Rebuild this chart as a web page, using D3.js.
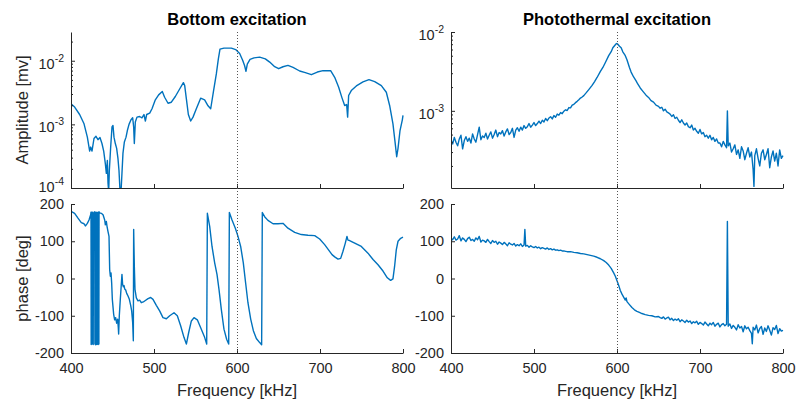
<!DOCTYPE html>
<html>
<head>
<meta charset="utf-8">
<script src="https://cdn.jsdelivr.net/npm/d3@7"></script>
<style>
  body { margin: 0; background: #fff; }
  svg { display: block; }
</style>
</head>
<body>
<svg id="chart" width="802" height="401"></svg>
<script>
// ---- data (frequency in kHz) ----
const freqTicks = [400, 500, 600, 700, 800];
const phaseTicks = [-200, -100, 0, 100, 200];
const resonance = 600;
const titles = ["Bottom excitation", "Photothermal excitation"];

// bottom excitation, amplitude [mV]
const bottomAmpFreq = [400.0, 404.4, 410.4, 415.7, 419.7, 422.5, 423.7, 425.3, 427.7, 430.1,
  432.5, 434.9, 437.3, 439.4, 441.4, 442.6, 443.8, 444.6, 445.4, 446.2,
  447.8, 449.4, 450.6, 451.8, 453.4, 455.0, 456.6, 457.8, 459.0, 460.2,
  461.4, 462.6, 464.3, 466.3, 467.9, 469.9, 472.3, 474.3, 475.5, 476.3,
  477.5, 479.5, 482.7, 485.5, 487.9, 489.6, 491.2, 494.8, 497.6, 501.6,
  505.6, 510.0, 512.8, 516.9, 520.9, 525.7, 530.9, 535.4, 537.0, 539.0,
  541.4, 544.2, 547.0, 551.0, 556.2, 561.0, 565.1, 568.3, 571.5, 575.1,
  577.5, 579.5, 584.3, 593.2, 598.4, 603.2, 606.8, 609.2, 610.8, 612.4,
  615.7, 620.5, 627.3, 634.1, 639.4, 645.4, 650.2, 655.4, 661.4, 667.5,
  675.5, 682.3, 689.6, 696.8, 703.6, 712.8, 717.7, 722.5, 726.5, 729.7,
  732.1, 733.3, 734.5, 737.7, 743.8, 751.8, 759.0, 765.9, 773.9, 779.9,
  783.9, 787.9, 790.4, 792.4, 794.0, 796.4, 799.2, 800.0];
const bottomAmp = [2.1e-3, 1.87e-3, 1.43e-3, 1.02e-3, 6.3e-4, 3.8e-4, 4.4e-4, 3.8e-4, 6.0e-4, 6.5e-4,
  5.75e-4, 6.2e-4, 5.0e-4, 3.8e-4, 2.4e-4, 1.7e-4, 2.7e-4, 1.2e-4, 8.8e-5, 1.9e-4,
  4.4e-4, 9.1e-4, 9.6e-4, 6.3e-4, 5.0e-4, 4.2e-4, 2.9e-4, 1.9e-4, 9.3e-5, 8.3e-5,
  1.7e-4, 3.5e-4, 5.3e-4, 6.3e-4, 8.0e-4, 1.0e-3, 1.18e-3, 1.27e-3, 9.1e-4, 5.0e-4,
  1.09e-3, 1.30e-3, 1.33e-3, 1.27e-3, 1.43e-3, 1.13e-3, 1.43e-3, 1.50e-3, 1.76e-3, 2.43e-3,
  2.91e-3, 3.28e-3, 2.67e-3, 2.15e-3, 2.23e-3, 2.74e-3, 3.60e-3, 4.53e-3, 4.07e-3, 2.52e-3,
  1.43e-3, 1.13e-3, 1.30e-3, 1.76e-3, 2.58e-3, 2.43e-3, 1.96e-3, 1.76e-3, 3.2e-3, 6.2e-3,
  1.06e-2, 1.52e-2, 1.58e-2, 1.58e-2, 1.50e-2, 1.30e-2, 1.02e-2, 8.35e-3, 6.8e-3, 8.87e-3,
  1.05e-2, 1.11e-2, 1.14e-2, 1.07e-2, 9.53e-3, 8.05e-3, 7.5e-3, 8.05e-3, 8.45e-3, 7.87e-3,
  6.9e-3, 6.49e-3, 6.04e-3, 6.65e-3, 6.98e-3, 6.98e-3, 5.5e-3, 3.83e-3, 2.61e-3, 1.98e-3,
  2.05e-3, 1.30e-3, 2.84e-3, 3.40e-3, 4.02e-3, 4.65e-3, 5.05e-3, 4.70e-3, 4.07e-3, 3.20e-3,
  1.98e-3, 1.02e-3, 5.3e-4, 3.1e-4, 4.2e-4, 8.0e-4, 1.18e-3, 1.38e-3];

// bottom excitation, phase [deg]
const bottomPhaseFreq = [400.0, 400.4, 401.2, 404.4, 408.4, 412.4, 415.7, 417.3, 419.7, 421.7,
  423.7, 424.1, 424.3, 424.7, 424.9, 425.2, 425.5, 425.7, 426.0, 426.3,
  426.5, 426.8, 427.0, 427.6, 428.2, 428.6, 428.8, 429.1, 429.3, 429.6,
  429.9, 430.1, 430.4, 430.7, 430.9, 431.2, 431.5, 431.7, 432.0, 432.3,
  432.5, 432.8, 433.1, 433.3, 433.6, 433.8, 434.5, 436.5, 438.6, 440.6,
  441.4, 442.6, 443.4, 444.6,
  445.8, 446.6, 447.4, 448.2, 449.0, 449.8, 451.4, 452.6, 453.8, 455.0,
  456.2, 457.0, 457.4, 458.2, 459.4, 460.6, 461.4, 462.2, 463.1, 463.9,
  464.7, 465.9, 467.1, 468.7, 470.3, 471.9, 473.1, 474.3, 475.1, 475.5,
  476.3, 477.1, 478.7, 480.7, 482.7, 484.7, 487.1, 489.6, 492.8, 496.0,
  498.8, 502.8, 506.8, 510.8, 514.9, 518.9, 524.1, 528.1, 532.1, 536.1,
  539.0, 541.8, 545.0, 548.2, 552.2, 557.0, 561.0, 563.5, 564.3, 567.1,
  569.9, 573.1, 575.9, 578.3, 581.1, 584.3, 587.5, 590.0, 590.8, 594.0,
  598.0, 601.2, 604.4, 607.6, 610.4, 613.2, 616.5, 619.7, 623.3, 627.3,
  629.7, 630.5, 633.3, 637.3, 643.4, 649.4, 655.4, 661.4, 669.5, 677.5,
  685.5, 693.6, 699.6, 705.6, 711.6, 714.5, 717.7, 721.7, 724.9, 727.7,
  730.5, 732.5, 733.7, 735.7, 741.8, 749.8, 757.8, 763.9, 769.9, 775.9,
  781.1, 785.1, 787.9, 789.9, 791.9, 794.0, 797.2, 800.0];
const bottomPhase = [-176, 178, 179, 175, 162, 150, 147, 141, 148, 157,
  171, 178, -177, -170, 178, -176, -168, 177, -175, -171,
  178, -177, 176, 174, 176, 179, -176, -169, 177, -178,
  -171, 178, -175, -170, 177, -177, -172, 176, -175, -169,
  178, -177, -173, 178, -176, 179, 176, 175, 171, 157,
  144, 153, 140, 126,
  113, 24, 6, 15, -12, -56, -96, -111, -105, -120,
  -109, -132, -149, -100, -56, -16, 11, -16, -22, -19,
  -28, -31, -40, -47, -56, -72, -87, -118, -167, 132,
  33, -29, -52, -60, -58, -65, -63, -59, -54, -51,
  -56, -72, -87, -105, -108, -100, -92, -100, -127, -158,
  -176, -145, -114, -105, -111, -136, -158, -176, 175, 140,
  86, 42, 11, -29, -83, -136, -163, -176, 177, 157,
  135, 113, 86, 42, -12, -65, -109, -140, -161, -172,
  -178, 177, 166, 156, 147, 147, 148, 135, 124, 118,
  116, 115, 106, 91, 73, 64, 58, 52, 54, 73,
  95, 113, 103, 102, 95, 86, 68, 51, 37, 20,
  2, -5, -1, 33, 77, 100, 108, 111];

// photothermal excitation, amplitude in units of 1e-4 mV
const photoAmpFreq = [400, 402, 404, 406, 408, 410, 412, 414, 416, 418,
  420, 422, 424, 426, 428, 430, 432, 434, 436, 438,
  440, 442, 444, 446, 448, 450, 452, 454, 456, 458,
  460, 462, 464, 466, 468, 470, 472, 474, 476, 478,
  480, 482, 484, 486, 488, 490, 492, 494, 496, 498,
  500, 502, 504, 506, 508, 510, 512, 514, 516, 518,
  520, 522, 524, 526, 528, 530, 532, 534, 536, 538,
  540, 542, 544, 546, 548, 550, 552, 554, 556, 558,
  560, 563, 566, 570, 573, 576, 580, 583, 586, 590,
  593, 595, 597, 599, 600, 601, 603, 605, 607, 610,
  612, 615, 617, 620, 623, 625, 628, 631, 635, 638,
  641, 644, 647, 650, 652, 654, 656, 658, 660, 662,
  664, 666, 668, 670, 672, 674, 676, 678, 680, 682,
  684, 686, 688, 690, 692, 694, 696, 698, 700, 702,
  704, 706, 708, 710, 712, 714, 716, 718, 720, 722,
  724, 726, 728, 730, 732, 733, 734, 736, 738, 740,
  742, 744, 746, 748, 750, 752, 754, 756, 758, 760,
  762, 764, 765, 766, 768, 770, 772, 774, 776, 778,
  780, 782, 784, 786, 788, 790, 792, 794, 796, 798,
  800];
const photoAmpE4 = [4.3, 3.8, 4.6, 4.0, 3.6, 4.4, 4.9, 3.3, 4.2, 4.7,
  4.1, 4.5, 3.9, 5.1, 4.4, 4.0, 5.0, 6.2, 4.3, 4.8,
  4.6, 5.2, 4.4, 4.9, 5.4, 4.5, 5.0, 5.7, 4.7, 5.3,
  5.1, 5.6, 4.8, 5.4, 5.9, 5.0, 5.3, 6.0, 4.6, 5.7,
  6.1, 5.5, 6.2, 5.7, 6.5, 6.0, 6.3, 6.9, 6.2, 6.6,
  7.1, 6.5, 6.9, 7.4, 6.9, 7.6, 7.2, 8.0, 7.5, 8.1,
  8.4, 7.9, 8.7, 8.3, 9.1, 8.8, 9.5, 9.2, 9.9, 10.3,
  10.1, 11.0, 10.9, 11.8, 12.1, 12.7, 13.2, 13.8, 14.5, 15.0,
  15.6, 17.0, 18.6, 21.0, 23.5, 26.5, 31.6, 35.5, 41.0, 50.1,
  56.2, 63.1, 67.0, 70.8, 71.4, 70.0, 66.0, 63.1, 56.0, 50.1,
  44.5, 35.5, 31.0, 26.9, 24.0, 21.9, 19.5, 17.8, 15.8, 14.8,
  13.5, 12.9, 11.8, 11.4, 10.8, 11.1, 10.0, 10.5, 9.7, 9.4,
  9.1, 8.5, 8.9, 8.0, 8.3, 7.6, 7.1, 7.7, 7.0, 6.6,
  7.0, 6.3, 6.1, 6.6, 5.7, 6.0, 5.5, 5.2, 5.8, 5.1,
  5.3, 4.7, 4.9, 4.5, 4.9, 4.3, 4.6, 4.1, 4.4, 3.9,
  3.9, 3.5, 4.1, 3.7, 3.4, 10.0, 3.6, 3.9, 3.0, 3.3,
  3.7, 2.8, 3.2, 2.5, 3.5, 3.1, 2.4, 2.9, 3.4, 2.6,
  3.0, 1.8, 1.1, 2.7, 3.3, 2.5, 2.0, 2.9, 3.2, 2.4,
  2.8, 3.3, 1.9, 2.6, 3.1, 2.3, 2.9, 2.0, 3.2, 2.5,
  2.7];

// photothermal excitation, phase [deg]
const photoPhaseFreq = [400, 402, 404, 406, 408, 410, 412, 414, 416, 418,
  420, 422, 424, 426, 428, 430, 432, 434, 436, 438,
  440, 442, 444, 446, 448, 450, 452, 454, 456, 458,
  460, 462, 464, 466, 468, 470, 472, 474, 476, 478,
  480, 482, 484, 486, 488, 489, 490, 492, 494, 496,
  498, 500, 502, 504, 506, 508, 510, 512, 514, 516,
  518, 520, 522, 524, 526, 528, 530, 532, 534, 536,
  538, 540, 544, 548, 552, 556, 560, 564, 568, 572,
  576, 580, 584, 587, 590, 593, 596, 598, 600, 602,
  604, 606, 608, 610, 611, 612, 615, 618, 621, 624,
  627, 630, 634, 638, 642, 646, 650, 652, 654, 656,
  658, 660, 662, 664, 666, 668, 670, 672, 674, 676,
  678, 680, 682, 684, 686, 688, 690, 692, 694, 696,
  698, 700, 702, 704, 706, 708, 710, 712, 714, 716,
  718, 720, 722, 724, 726, 728, 730, 732, 733, 734,
  736, 738, 740, 742, 744, 746, 748, 750, 752, 754,
  756, 758, 760, 762, 763, 764, 766, 768, 770, 772,
  774, 776, 778, 780, 782, 784, 786, 788, 790, 792,
  794, 796, 798, 800];
const photoPhase = [108, 104, 112, 103, 106, 115, 101, 109, 105, 99,
  107, 111, 102, 105, 100, 109, 104, 113, 98, 103,
  101, 97, 105, 99, 94, 102, 97, 100, 92, 98,
  95, 91, 97, 93, 88, 96, 92, 90, 94, 87,
  91, 88, 93, 86, 90, 132, 87, 89, 84, 88,
  85, 83, 86, 82, 84, 80, 83, 81, 79, 82,
  78, 80, 77, 79, 76, 77, 75, 76, 74, 74,
  73, 72, 72, 70, 69, 67, 66, 64, 62, 60,
  57, 53, 48, 43, 36, 27, 15, 6, -6, -18,
  -32, -42, -50, -58, -52, -62, -70, -78, -84, -88,
  -91, -94, -97, -99, -100, -103, -102, -105, -107, -103,
  -109, -106, -104, -111, -107, -113, -109, -112, -108, -116,
  -111, -114, -118, -112, -117, -114, -121, -116, -119, -115,
  -123, -118, -121, -125, -117, -122, -127, -120, -124, -118,
  -128, -123, -120, -130, -124, -121, -127, -123, 153, -128,
  -122, -134, -126, -131, -138, -124, -133, -129, -143, -127,
  -135, -131, -140, -147, -175, -131, -138, -125, -146, -134,
  -129, -150, -133, -142, -127, -139, -152, -132, -137, -126,
  -148, -135, -141, -139];

// ---- drawing ----
const FONT = '"Liberation Sans", Arial, Helvetica, sans-serif';
const lineColor = '#0072BD';
const axisColor = '#262626';
const svg = d3.select('#chart');

const cols = [{ x0: 71, x1: 403 }, { x0: 451, x1: 783 }];
const topRow = { y0: 32, y1: 188 };
const botRow = { y0: 204, y1: 353 };
let clipId = 0;

function styleAxis(g) {
  g.attr('font-family', FONT).attr('font-size', 14.5).attr('color', axisColor);
  g.selectAll('.domain').attr('stroke', axisColor);
  g.selectAll('.tick line').attr('stroke', axisColor);
}

function panel(o) {
  const x = d3.scaleLinear().domain([400, 800]).range([o.x0, o.x1]);
  const y = (o.log ? d3.scaleLog() : d3.scaleLinear()).domain(o.yDomain).range([o.y1, o.y0]);
  const g = svg.append('g');

  const cid = 'clip' + (clipId++);
  svg.append('clipPath').attr('id', cid)
    .append('rect')
    .attr('x', o.x0).attr('y', o.y0 - 1)
    .attr('width', o.x1 - o.x0 + 1).attr('height', o.y1 - o.y0 + 1);

  const line = d3.line().x(d => x(d[0])).y(d => y(d[1]));
  g.append('path')
    .datum(d3.zip(o.fx, o.fy))
    .attr('clip-path', `url(#${cid})`)
    .attr('fill', 'none')
    .attr('stroke', lineColor)
    .attr('stroke-width', 1.4)
    .attr('stroke-linejoin', 'round')
    .attr('d', line);

  // x axis (ticks point inwards, like MATLAB)
  g.append('g')
    .attr('transform', `translate(0,${o.y1})`)
    .call(d3.axisBottom(x).tickValues(freqTicks).tickSizeInner(-4).tickSizeOuter(0)
      .tickPadding(10).tickFormat(d => o.xLabels ? String(d) : ''))
    .call(styleAxis);

  if (o.log) {
    g.append('g')
      .attr('transform', `translate(${o.x0},0)`)
      .call(d3.axisLeft(y).tickValues(o.minor).tickSizeInner(-2).tickSizeOuter(0).tickFormat(() => ''))
      .call(styleAxis)
      .call(a => a.select('.domain').remove());
    g.append('g')
      .attr('transform', `translate(${o.x0},0)`)
      .call(d3.axisLeft(y).tickValues(o.yTicks).tickSizeInner(-4).tickSizeOuter(0).tickFormat(() => ''))
      .call(styleAxis);
    // 10^n labels; the one sitting on the bottom edge is lifted a little so it clears the phase axis label below
    const lab = g.append('g').attr('font-family', FONT).attr('fill', axisColor).attr('text-anchor', 'end');
    o.yTicks.forEach(v => {
      const yy = y(v) + (Math.abs(y(v) - o.y1) < 1 ? 4 : 8);
      const t = lab.append('text').attr('x', o.x0 - 7).attr('y', yy).attr('font-size', 14.5);
      t.append('tspan').text('10');
      t.append('tspan').attr('font-size', 10.5).attr('dy', -7).text(String(Math.round(Math.log10(v))));
    });
  } else {
    g.append('g')
      .attr('transform', `translate(${o.x0},0)`)
      .call(d3.axisLeft(y).tickValues(o.yTicks).tickSizeInner(-4).tickSizeOuter(0)
        .tickPadding(7).tickFormat(d => String(d)))
      .call(styleAxis);
  }

  if (o.yLabel) {
    svg.append('text')
      .attr('transform', `translate(27.5,${(o.y0 + o.y1) / 2}) rotate(-90)`)
      .attr('text-anchor', 'middle')
      .attr('font-family', FONT).attr('font-size', 16.5).attr('fill', axisColor)
      .text(o.yLabel);
  }
  if (o.xLabel) {
    svg.append('text')
      .attr('x', (o.x0 + o.x1) / 2).attr('y', 396)
      .attr('text-anchor', 'middle')
      .attr('font-family', FONT).attr('font-size', 16.5).attr('fill', axisColor)
      .text(o.xLabel);
  }
  if (o.title) {
    svg.append('text')
      .attr('x', (o.x0 + o.x1) / 2).attr('y', 25)
      .attr('text-anchor', 'middle')
      .attr('font-family', FONT).attr('font-size', 16.5).attr('font-weight', 'bold').attr('fill', '#000')
      .text(o.title);
  }
  return x;
}

const minorLeft = [2e-4, 3e-4, 4e-4, 5e-4, 6e-4, 7e-4, 8e-4, 9e-4, 2e-3, 3e-3, 4e-3, 5e-3, 6e-3, 7e-3, 8e-3, 9e-3, 2e-2];
const minorRight = [2e-4, 3e-4, 4e-4, 5e-4, 6e-4, 7e-4, 8e-4, 9e-4, 2e-3, 3e-3, 4e-3, 5e-3, 6e-3, 7e-3, 8e-3, 9e-3];

const xs = [];
xs.push(panel({ ...cols[0], ...topRow, log: true, yDomain: [1e-4, 0.0283], yTicks: [1e-4, 1e-3, 1e-2], minor: minorLeft,
  fx: bottomAmpFreq, fy: bottomAmp, yLabel: 'Amplitude [mv]', title: titles[0] }));
panel({ ...cols[0], ...botRow, yDomain: [-200, 200], yTicks: phaseTicks,
  fx: bottomPhaseFreq, fy: bottomPhase, yLabel: 'phase [deg]', xLabels: true, xLabel: 'Frequency [kHz]' });
xs.push(panel({ ...cols[1], ...topRow, log: true, yDomain: [1.05e-4, 1e-2], yTicks: [1e-3, 1e-2], minor: minorRight,
  fx: photoAmpFreq, fy: photoAmpE4.map(v => v * 1e-4), title: titles[1] }));
panel({ ...cols[1], ...botRow, yDomain: [-200, 200], yTicks: phaseTicks,
  fx: photoPhaseFreq, fy: photoPhase, xLabels: true, xLabel: 'Frequency [kHz]' });

// dotted marker at the resonance, spanning both rows
xs.forEach(x => {
  const px = Math.round(x(resonance)) + 0.5;
  svg.append('line')
    .attr('x1', px).attr('x2', px).attr('y1', topRow.y0).attr('y2', botRow.y1)
    .attr('stroke', '#555').attr('stroke-width', 1).attr('stroke-dasharray', '1,2');
});
</script>
</body>
</html>
